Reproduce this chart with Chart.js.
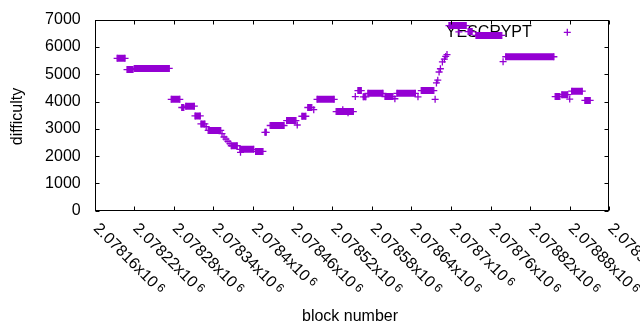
<!DOCTYPE html>
<html>
<head>
<meta charset="utf-8">
<script src="https://cdn.jsdelivr.net/npm/chart.js@4.4.1/dist/chart.umd.min.js"></script>
<style>
  html, body { margin: 0; padding: 0; background: #fff; }
  #wrap { width: 640px; height: 330px; }
</style>
</head>
<body>
<div id="wrap"><canvas id="chart" width="640" height="330"></canvas></div>
<script>
// SERIES
let seriesName = "YESCRYPT";

// runs of equal difficulty: first block, last block, difficulty
let runStart = [
    2078194, 2078209, 2078220, 2078276, 2078292, 2078298, 2078312, 2078321, 2078329, 2078332,
    2078353, 2078356, 2078359, 2078362, 2078365, 2078367, 2078380, 2078381, 2078404, 2078418,
    2078426, 2078451, 2078467, 2078474, 2078483, 2078492, 2078497, 2078526, 2078536, 2078544,
    2078555, 2078559, 2078567, 2078574, 2078600, 2078615, 2078618, 2078650, 2078655, 2078676,
    2078678, 2078680, 2078682, 2078684, 2078687, 2078690, 2078692, 2078694, 2078697, 2078712,
    2078726, 2078738, 2078779, 2078783, 2078858, 2078868, 2078880, 2078883, 2078903
];
let runEnd = [
    2078206, 2078218, 2078273, 2078289, 2078295, 2078311, 2078320, 2078327, 2078329, 2078351,
    2078353, 2078356, 2078359, 2078362, 2078365, 2078376, 2078401, 2078381, 2078415, 2078420,
    2078447, 2078465, 2078467, 2078480, 2078489, 2078492, 2078523, 2078552, 2078536, 2078544,
    2078555, 2078564, 2078571, 2078597, 2078612, 2078615, 2078646, 2078650, 2078674, 2078676,
    2078678, 2078680, 2078682, 2078684, 2078687, 2078690, 2078692, 2078694, 2078723, 2078712,
    2078732, 2078777, 2078779, 2078856, 2078865, 2078877, 2078880, 2078899, 2078911
];
let runDifficulty = [
    5580, 5170, 5210, 4080, 3780, 3830, 3470, 3180, 3080, 2940,
    2820, 2700, 2620, 2540, 2460, 2380, 2250, 2140, 2170, 2870,
    3120, 3300, 3140, 3460, 3780, 3700, 4080, 3630, 3700, 3590,
    4180, 4400, 4170, 4300, 4180, 4100, 4300, 4170, 4400, 4080,
    4680, 4780, 5080, 5200, 5450, 5550, 5650, 5720, 6780, 6550,
    6560, 6420, 5460, 5640, 4180, 4250, 4090, 4380, 4040
];

// AXES
let xTicks = [2078160, 2078220, 2078280, 2078340, 2078400, 2078460, 2078520,
              2078580, 2078640, 2078700, 2078760, 2078820, 2078880, 2078940];
let yTicks = [0, 1000, 2000, 3000, 4000, 5000, 6000, 7000];
let xTitle = "block number";
let yTitle = "difficulty";

let purple = "#9400d3";
let font = '"Liberation Sans", Arial, sans-serif';

// one segment per run, broken by a null point
let points = [];
for (let i = 0; i < runStart.length; i++) {
    points.push({ x: runStart[i], y: runDifficulty[i] });
    if (runEnd[i] !== runStart[i]) points.push({ x: runEnd[i], y: runDifficulty[i] });
    points.push({ x: runEnd[i], y: null });
}

function tickText(v) {
    return String(parseFloat((v / 1e6).toPrecision(6)));
}

function cross(ctx, x, y, r) {
    ctx.beginPath();
    ctx.moveTo(x - r, y); ctx.lineTo(x + r, y);
    ctx.moveTo(x, y - r); ctx.lineTo(x, y + r);
    ctx.stroke();
}

// gnuplot style frame, ticks and key
let gnuFrame = {
    id: "gnuFrame",
    beforeDatasetsDraw(chart) {
        let ctx = chart.ctx, a = chart.chartArea;
        ctx.save();
        ctx.font = "16px " + font;
        ctx.fillStyle = "#000";
        ctx.textAlign = "right";
        ctx.textBaseline = "alphabetic";
        ctx.fillText(seriesName, a.right - 77.5, 36.7);
        ctx.strokeStyle = purple;
        ctx.lineWidth = 1.3;
        cross(ctx, a.right - 42, 32.3, 3.5);
        ctx.restore();
    },
    afterDraw(chart) {
        let ctx = chart.ctx, a = chart.chartArea;
        let xs = chart.scales.x, ys = chart.scales.y;
        ctx.save();
        ctx.strokeStyle = "#000";
        ctx.lineWidth = 1;
        let L = Math.round(a.left) + 0.5, R = Math.round(a.right) - 0.5;
        let T = Math.round(a.top) + 0.5, B = Math.round(a.bottom) - 0.5;
        ctx.strokeRect(L, T, R - L, B - T);

        ctx.beginPath();
        xTicks.forEach(t => {
            let px = Math.round(xs.getPixelForValue(t)) + 0.5;
            ctx.moveTo(px, B); ctx.lineTo(px, B - 4);
            ctx.moveTo(px, T); ctx.lineTo(px, T + 4);
        });
        yTicks.forEach(t => {
            let py = Math.round(ys.getPixelForValue(t)) + 0.5;
            ctx.moveTo(L, py); ctx.lineTo(L + 4, py);
            ctx.moveTo(R, py); ctx.lineTo(R - 4, py);
        });
        ctx.stroke();

        ctx.fillStyle = "#000";
        ctx.font = "16px " + font;
        ctx.textAlign = "right";
        ctx.textBaseline = "middle";
        yTicks.forEach(t => {
            ctx.fillText(String(t), a.left - 14, ys.getPixelForValue(t));
        });

        ctx.textAlign = "left";
        ctx.textBaseline = "alphabetic";
        xTicks.forEach(t => {
            let px = xs.getPixelForValue(t);
            let s = tickText(t) + "x10";
            ctx.save();
            ctx.translate(px - 2, a.bottom + 18.5);
            ctx.rotate(Math.PI / 4);
            ctx.font = "16px " + font;
            ctx.fillText(s, 0, 0);
            let w = ctx.measureText(s).width;
            ctx.font = "12px " + font;
            ctx.fillText("6", w + 3, -3);
            ctx.restore();
        });

        ctx.font = "16px " + font;
        ctx.textAlign = "center";
        ctx.fillText(xTitle, (a.left + a.right) / 2 - 2, 321);
        ctx.save();
        ctx.translate(22, 116.5);
        ctx.rotate(-Math.PI / 2);
        ctx.textBaseline = "alphabetic";
        ctx.fillText(yTitle, 0, 0);
        ctx.restore();
        ctx.restore();
    }
};

new Chart(document.getElementById("chart"), {
    type: "scatter",
    data: {
        datasets: [{
            label: seriesName,
            data: points,
            showLine: true,
            spanGaps: false,
            borderColor: purple,
            borderWidth: 7,
            borderCapStyle: "butt",
            pointStyle: "cross",
            pointRadius: 3.5,
            pointHoverRadius: 3.5,
            pointBorderWidth: 1.3,
            pointBorderColor: purple,
            pointBackgroundColor: purple
        }]
    },
    options: {
        responsive: false,
        animation: false,
        devicePixelRatio: 1,
        events: [],
        layout: { padding: { left: 94.7, right: 30.7, top: 19.6, bottom: 119.3 } },
        scales: {
            x: { type: "linear", min: 2078160, max: 2078940, display: false },
            y: { type: "linear", min: 0, max: 7000, display: false }
        },
        plugins: {
            legend: { display: false },
            tooltip: { enabled: false }
        }
    },
    plugins: [gnuFrame]
});
</script>
</body>
</html>
